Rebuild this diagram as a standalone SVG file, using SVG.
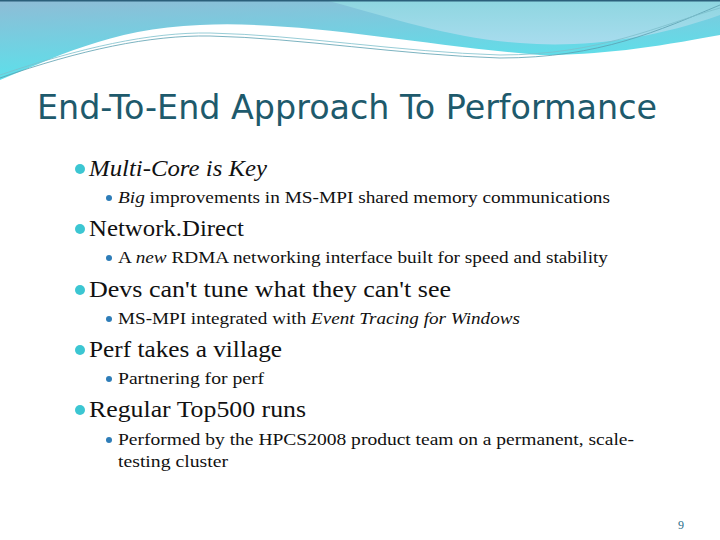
<svg xmlns="http://www.w3.org/2000/svg" width="720" height="540" viewBox="0 0 720 540">
<defs>
<linearGradient id="g1" x1="0" y1="0" x2="0.3" y2="1"><stop offset="0" stop-color="#8fbcd6"/><stop offset="1" stop-color="#58e3ec"/></linearGradient>
<linearGradient id="g2" x1="0" y1="0" x2="0" y2="1"><stop offset="0" stop-color="#8ed6e0"/><stop offset="1" stop-color="#a8dcee"/></linearGradient>
</defs>
<style>
.t1{font-family:"Liberation Serif",serif;font-size:24px;fill:#111}
.t2{font-family:"Liberation Serif",serif;font-size:17px;fill:#111}
.b1{fill:#3cc6d2}.b2{fill:#2e7db8}
.ln{fill:none;stroke-width:0.8}
</style>
<rect width="720" height="540" fill="#fff"/>
<path d="M0,0 H720 V35 C650,48 600,55 540,55 C420,45 300,20 200,25 C110,28 50,60 0,80 Z" fill="url(#g1)"/>
<path d="M325,0 H720 V15 C650,40 580,48 520,43 C450,38 400,20 325,0 Z" fill="url(#g2)"/>
<path d="M0,78 C80,50 150,35 210,36 C300,38 400,55 500,58 C600,58 660,30 720,5" class="ln" stroke="#5aa0b0"/>
<path d="M0,75 C80,48 150,32 210,33 C300,35 400,52 500,55 C600,55 660,25 720,8" class="ln" stroke="#7cbfcc"/>
<rect x="0" y="0" width="720" height="1.5" fill="#2b5f7a"/>
<text x="37" y="119" font-family="'DejaVu Sans',sans-serif" font-size="33" fill="#1e5a6c" textLength="620" lengthAdjust="spacingAndGlyphs">End-To-End Approach To Performance</text>
<g>
<circle class="b1" cx="80" cy="169" r="5"/><text class="t1" x="89" y="176" font-style="italic" textLength="178" lengthAdjust="spacingAndGlyphs">Multi-Core is Key</text>
<circle class="b2" cx="109" cy="198" r="3"/><text class="t2" x="118" y="203" textLength="492" lengthAdjust="spacingAndGlyphs"><tspan font-style="italic">Big</tspan> improvements in MS-MPI shared memory communications</text>
<circle class="b1" cx="80" cy="229" r="5"/><text class="t1" x="89" y="236" textLength="155" lengthAdjust="spacingAndGlyphs">Network.Direct</text>
<circle class="b2" cx="109" cy="258" r="3"/><text class="t2" x="118" y="263" textLength="490" lengthAdjust="spacingAndGlyphs">A <tspan font-style="italic">new</tspan> RDMA networking interface built for speed and stability</text>
<circle class="b1" cx="80" cy="290" r="5"/><text class="t1" x="89" y="297" textLength="362" lengthAdjust="spacingAndGlyphs">Devs can't tune what they can't see</text>
<circle class="b2" cx="109" cy="319" r="3"/><text class="t2" x="118" y="324" textLength="402" lengthAdjust="spacingAndGlyphs">MS-MPI integrated with <tspan font-style="italic">Event Tracing for Windows</tspan></text>
<circle class="b1" cx="80" cy="350" r="5"/><text class="t1" x="89" y="357" textLength="193" lengthAdjust="spacingAndGlyphs">Perf takes a village</text>
<circle class="b2" cx="109" cy="379" r="3"/><text class="t2" x="118" y="384" textLength="146" lengthAdjust="spacingAndGlyphs">Partnering for perf</text>
<circle class="b1" cx="80" cy="410" r="5"/><text class="t1" x="89" y="417" textLength="217" lengthAdjust="spacingAndGlyphs">Regular Top500 runs</text>
<circle class="b2" cx="109" cy="440" r="3"/><text class="t2" x="118" y="445" textLength="516" lengthAdjust="spacingAndGlyphs">Performed by the HPCS2008 product team on a permanent, scale-</text>
<text class="t2" x="118" y="467" textLength="110" lengthAdjust="spacingAndGlyphs">testing cluster</text>
</g>
<text x="678" y="529" font-family="'Liberation Serif',serif" font-size="12" fill="#2a6f8a">9</text>
</svg>
